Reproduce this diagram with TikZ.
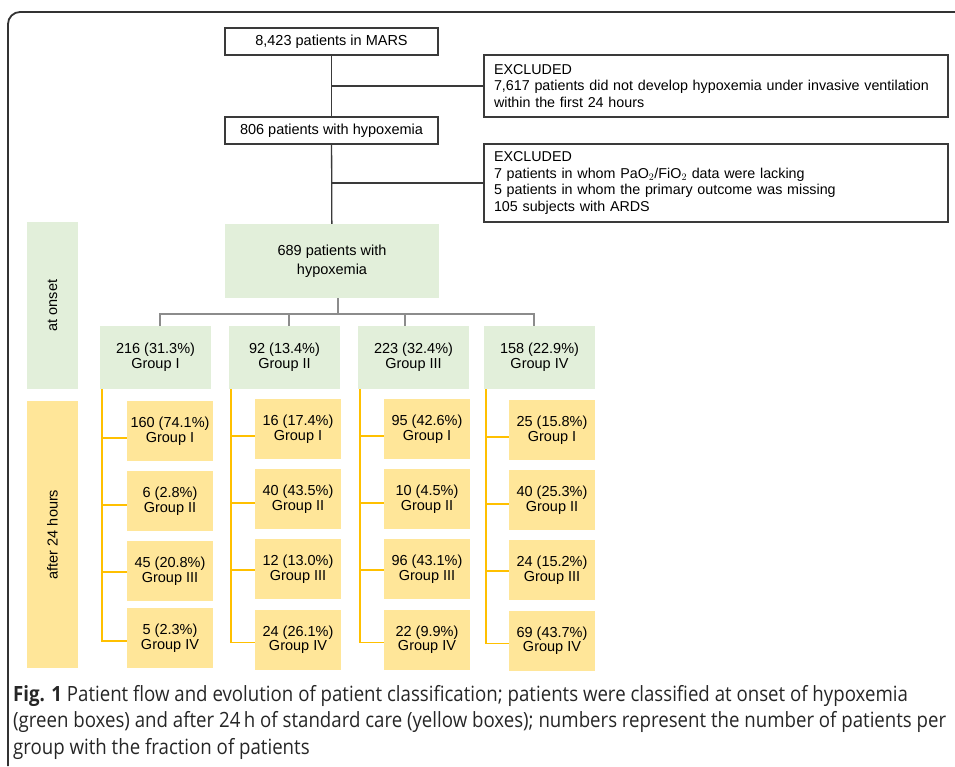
\documentclass[tikz,border=0pt]{standalone}
\usepackage{fontspec}
\setmainfont{Liberation Sans}
\newfontfamily\capfont[FakeStretch=0.888]{Open Sans}
\usetikzlibrary{calc}
\definecolor{gfill}{HTML}{E2EFDA}
\definecolor{yfill}{HTML}{FFE699}
\definecolor{yline}{HTML}{FFC000}
\definecolor{gline}{HTML}{8C8C8C}
\definecolor{bline}{HTML}{3A3A3A}
\begin{document}
\begin{tikzpicture}[x=1pt,y=-1pt,
  wbox/.style={draw=bline, line width=1.2pt, fill=white, minimum width=213pt, minimum height=27pt, inner sep=0pt, font=\fontsize{14.5}{16.5}\selectfont},
  exbox/.style={draw=bline, line width=1.2pt, minimum width=464pt, text width=444pt, align=left, inner xsep=10pt, inner ysep=0pt, font=\fontsize{14.3}{16.5}\selectfont},
  gbox/.style={fill=gfill, inner sep=0pt, align=center, font=\fontsize{14.5}{15}\selectfont},
  grp/.style={gbox, minimum width=111pt, minimum height=63pt},
  ybox/.style={fill=yfill, minimum width=86pt, minimum height=60pt, inner sep=0pt, align=center, font=\fontsize{14.5}{14.5}\selectfont},
  blk/.style={draw=bline, line width=1.3pt},
  gry/.style={draw=gline, line width=1.5pt},
  ylw/.style={draw=yline, line width=1.5pt},
  capline/.style={anchor=base west, inner sep=0pt, font=\capfont\fontsize{21}{26}\selectfont, text=black!85}
]
\useasboundingbox (0,0) rectangle (955,766);
% outer frame
\draw[draw=black!80, line width=1.8pt] (8,766) -- (8,24) arc[start angle=180, end angle=270, radius=12] -- (956,12);

% top flow
\node[wbox] (mars) at (331.5,41.5) {8,423 patients in MARS};
\node[wbox] (h806) at (331.5,130.5) {806 patients with hypoxemia};
\node[exbox, minimum height=62pt] (ex1) at (716,86) {EXCLUDED\\7,617 patients did not develop hypoxemia under invasive ventilation\\within the first 24 hours};
\node[exbox, minimum height=78pt] (ex2) at (716,183) {EXCLUDED\\7 patients in whom PaO$_2$/FiO$_2$ data were lacking\\5 patients in whom the primary outcome was missing\\105 subjects with ARDS};
\node[gbox, minimum width=214pt, minimum height=74pt, font=\fontsize{14.5}{19}\selectfont] (m689) at (332,261) {689 patients with\\hypoxemia};

\draw[blk] (mars) -- (h806);
\draw[blk] (mars.south |- ex1.west) -- (ex1.west);
\draw[blk] (h806) -- (m689);
\draw[blk] (h806.south |- ex2.west) -- (ex2.west);

% side labels
\node[gbox, minimum width=51pt, minimum height=167pt] (onset) at (52.5,305.5) {\rotatebox{90}{at onset}};
\node[ybox, minimum width=51pt, minimum height=267pt] (after) at (52.5,534.5) {\rotatebox{90}{after 24 hours}};

% onset groups
\node[grp] (g1) at (155.5,357.5) {216 (31.3\%)\\Group I};
\node[grp] (g2) at (284.5,357.5) {92 (13.4\%)\\Group II};
\node[grp] (g3) at (413.5,357.5) {223 (32.4\%)\\Group III};
\node[grp] (g4) at (539.5,357.5) {158 (22.9\%)\\Group IV};

\coordinate (bus) at (0,314);
\draw[gry] ([xshift=6pt]m689.south) -- ([xshift=6pt]m689.south |- bus);
\draw[gry] ([xshift=4.5pt]g1.north) -- ([xshift=4.5pt]g1.north |- bus) -- ([xshift=-5.5pt]g4.north |- bus) -- ([xshift=-5.5pt]g4.north);
\draw[gry] ([xshift=4.5pt]g2.north) -- ([xshift=4.5pt]g2.north |- bus);
\draw[gry] ([xshift=-8.5pt]g3.north) -- ([xshift=-8.5pt]g3.north |- bus);

% after 24 h boxes
\node[ybox] (y11) at (170,431) {160 (74.1\%)\\Group I};
\node[ybox] (y12) at (170,501) {6 (2.8\%)\\Group II};
\node[ybox] (y13) at (170,571) {45 (20.8\%)\\Group III};
\node[ybox] (y14) at (170,638) {5 (2.3\%)\\Group IV};

\node[ybox] (y21) at (298,429) {16 (17.4\%)\\Group I};
\node[ybox] (y22) at (298,499) {40 (43.5\%)\\Group II};
\node[ybox] (y23) at (298,569) {12 (13.0\%)\\Group III};
\node[ybox] (y24) at (298,639.5) {24 (26.1\%)\\Group IV};

\node[ybox] (y31) at (427,429) {95 (42.6\%)\\Group I};
\node[ybox] (y32) at (427,499) {10 (4.5\%)\\Group II};
\node[ybox] (y33) at (427,569) {96 (43.1\%)\\Group III};
\node[ybox] (y34) at (427,639.5) {22 (9.9\%)\\Group IV};

\node[ybox] (y41) at (552,430) {25 (15.8\%)\\Group I};
\node[ybox] (y42) at (552,500) {40 (25.3\%)\\Group II};
\node[ybox] (y43) at (552,570) {24 (15.2\%)\\Group III};
\node[ybox] (y44) at (552,640.5) {69 (43.7\%)\\Group IV};

\foreach \c in {1,2,3,4}{
  \draw[ylw] ([xshift=2pt]g\c.south west) |- ([yshift=-3pt]y\c4.west);
  \draw[ylw] ([yshift=-7pt]y\c1.west) -| ([xshift=2pt]g\c.south west);
  \draw[ylw] ([yshift=-4pt]y\c2.west) -| ([xshift=2pt]g\c.south west);
  \draw[ylw] ([yshift=-1pt]y\c3.west) -| ([xshift=2pt]g\c.south west);
}

% caption
\node[capline] (cap1) at (13,701) {\textbf{Fig. 1} Patient flow and evolution of patient classification; patients were classified at onset of hypoxemia};
\node[capline] (cap2) at (13,727.5) {(green boxes) and after 24\,h of standard care (yellow boxes); numbers represent the number of patients per};
\node[capline] (cap3) at (13,754) {group with the fraction of patients};
\end{tikzpicture}
\end{document}
